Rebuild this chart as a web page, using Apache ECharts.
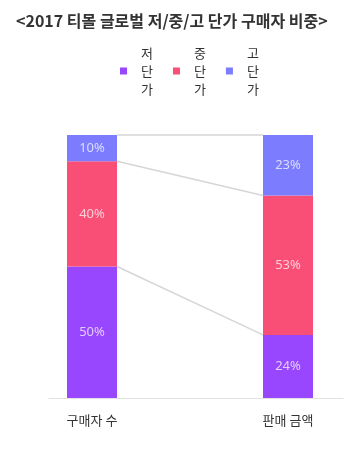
<!DOCTYPE html>
<html><head><meta charset="utf-8">
<script src="https://cdn.jsdelivr.net/npm/echarts@6/dist/echarts.min.js"></script>
<style>html,body{margin:0;padding:0;background:#fff}#c{width:364px;height:453px}</style>
</head><body><div id="c"></div>
<script>
const title = '<2017 티몰 글로벌 저/중/고 단가 구매자 비중>';
const categories = ['구매자 수', '판매 금액'];
const seriesNames = ['저단가', '중단가', '고단가'];
const lowPrice = [50, 24];
const midPrice = [40, 53];
const highPrice = [10, 23];
const colors = ['#9847FF', '#F94F76', '#7C7CFF'];
const BAR_W = 50;

const all = [lowPrice, midPrice, highPrice];
const cumTops = [];
let acc = [0, 0];
all.forEach(arr => { acc = [acc[0] + arr[0], acc[1] + arr[1]]; cumTops.push([acc[0], acc[1]]); });

const chart = echarts.init(document.getElementById('c'));
const series = all.map((arr, i) => ({
  name: seriesNames[i].split('').join('\n'),
  type: 'bar', stack: 'total', barWidth: BAR_W,
  itemStyle: { color: colors[i] },
  label: { show: true, position: 'inside', formatter: '{c}%', color: 'rgba(255,255,255,0.72)', fontSize: 13, fontFamily: 'Noto Sans' },
  data: arr,
  z: 3
}));
series.push({
  type: 'custom', silent: true, z: 2,
  data: cumTops,
  renderItem: (params, api) => {
    const p1 = api.coord([0, api.value(0)]);
    const p2 = api.coord([1, api.value(1)]);
    return { type: 'line', shape: { x1: p1[0] + BAR_W / 2, y1: p1[1], x2: p2[0] - BAR_W / 2, y2: p2[1] },
      style: { stroke: '#d6d6d6', lineWidth: 1.5 } };
  }
});

chart.setOption({
  animation: false,
  title: { text: title, left: 11, top: 8, textStyle: { fontSize: 16, fontWeight: 'bold', color: '#333', fontFamily: 'Noto Sans CJK KR' } },
  legend: { top: 39, left: 115, itemWidth: 7, itemHeight: 7, itemGap: 20, icon: 'rect',
    textStyle: { fontSize: 13, color: '#333', lineHeight: 18, fontFamily: 'Noto Sans CJK KR', padding: [0, 0, 0, 9] } },
  grid: [
    { left: 92, right: 76, top: 135, bottom: 55 },
    { left: 49, right: 21, top: 135, bottom: 55 }
  ],
  xAxis: [
    { type: 'category', data: categories, boundaryGap: false, gridIndex: 0,
      axisLine: { show: false }, axisTick: { show: false },
      axisLabel: { color: '#333', fontSize: 13, margin: 16, fontFamily: 'Noto Sans CJK KR' } },
    { type: 'value', gridIndex: 1, min: 0, max: 1, splitLine: { show: false },
      axisLine: { show: true, lineStyle: { color: '#e3e3e3', width: 1 } },
      axisTick: { show: false }, axisLabel: { show: false } }
  ],
  yAxis: [
    { type: 'value', min: 0, max: 100, show: false, gridIndex: 0 },
    { type: 'value', min: 0, max: 1, show: false, gridIndex: 1 }
  ],
  series
});
</script></body></html>
